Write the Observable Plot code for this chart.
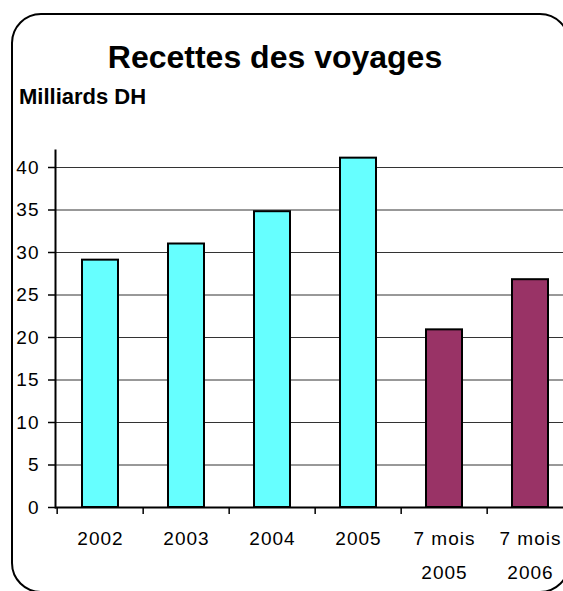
<!DOCTYPE html>
<html>
<head>
<meta charset="utf-8">
<script src="https://cdn.jsdelivr.net/npm/d3@7"></script>
<script src="https://cdn.jsdelivr.net/npm/@observablehq/plot@0.6"></script>
<style>
  html, body { margin: 0; padding: 0; background: #fff; overflow: hidden; }
  #wrap { position: relative; width: 563px; height: 591px; overflow: hidden; background: #fff;
          font-family: "Liberation Sans", Arial, sans-serif; color: #000; }
  #frame { position: absolute; left: 11px; top: 13px; width: 559px; height: 580px;
           box-sizing: border-box; border: 2px solid #000; border-radius: 30px; }
  #title { position: absolute; left: 0; width: 550px; top: 41px; text-align: center;
           font-size: 32px; line-height: 32px; font-weight: bold; white-space: nowrap; }
  #unit { position: absolute; left: 19px; top: 86px; font-size: 22px; line-height: 22px;
          font-weight: bold; white-space: nowrap; }
  #chart { position: absolute; left: 0; top: 0; width: 580px; height: 591px; }
  #chart svg { max-width: none !important; width: 580px !important; height: 591px !important; }
</style>
</head>
<body>
<div id="wrap">
  <div id="frame"></div>
  <div id="chart"></div>
  <div id="title">Recettes des voyages</div>
  <div id="unit">Milliards DH</div>
</div>
<script>
const categories = ["2002", "2003", "2004", "2005", "7 mois\n2005", "7 mois\n2006"];
const values = [29.1, 31.0, 34.8, 41.1, 20.9, 26.8];
const periods = ["annuel", "annuel", "annuel", "annuel", "7 mois", "7 mois"];
const periodDomain = ["annuel", "7 mois"];
const periodColors = ["#66FFFF", "#993366"];
const yTicks = [0, 5, 10, 15, 20, 25, 30, 35, 40];
const gridTicks = [5, 10, 15, 20, 25, 30, 35, 40];

const data = categories.map((c, i) => ({cat: c, value: values[i], period: periods[i]}));

const W = 580, H = 591, mL = 55, mR = 5, mT = 150, mB = 84;
const step = (W - mL - mR) / categories.length;

const chart = Plot.plot({
  width: W, height: H,
  marginLeft: mL, marginRight: mR, marginTop: mT, marginBottom: mB,
  style: {background: "transparent", fontFamily: "'Liberation Sans', Arial, sans-serif",
          fontSize: "19px", color: "#000", letterSpacing: "1px", overflow: "visible"},
  x: {domain: categories, paddingInner: 0.585, paddingOuter: 0.2925, axis: null, label: null},
  y: {domain: [0, 42], axis: null, label: null},
  color: {domain: periodDomain, range: periodColors},
  marks: [
    Plot.ruleY(gridTicks, {stroke: "#333", strokeWidth: 1}),
    Plot.barY(data, {x: "cat", y: "value", fill: "period", stroke: "#000", strokeWidth: 2}),
    Plot.ruleY([0], {stroke: "#000", strokeWidth: 2}),
    Plot.frame({anchor: "left", stroke: "#000", strokeWidth: 2}),
    Plot.axisY({ticks: yTicks, tickSize: 7, tickPadding: 9, strokeWidth: 1.5, fontSize: 19, label: null}),
    Plot.axisX({tickSize: 7, tickFormat: () => "", dx: -step / 2, strokeWidth: 1.5, label: null}),
    Plot.text(categories, {x: d => d, frameAnchor: "bottom", lineAnchor: "top", dy: 13.5,
                           lineHeight: 1.8, fontSize: 19})
  ]
});
document.getElementById("chart").appendChild(chart);
</script>
</body>
</html>
